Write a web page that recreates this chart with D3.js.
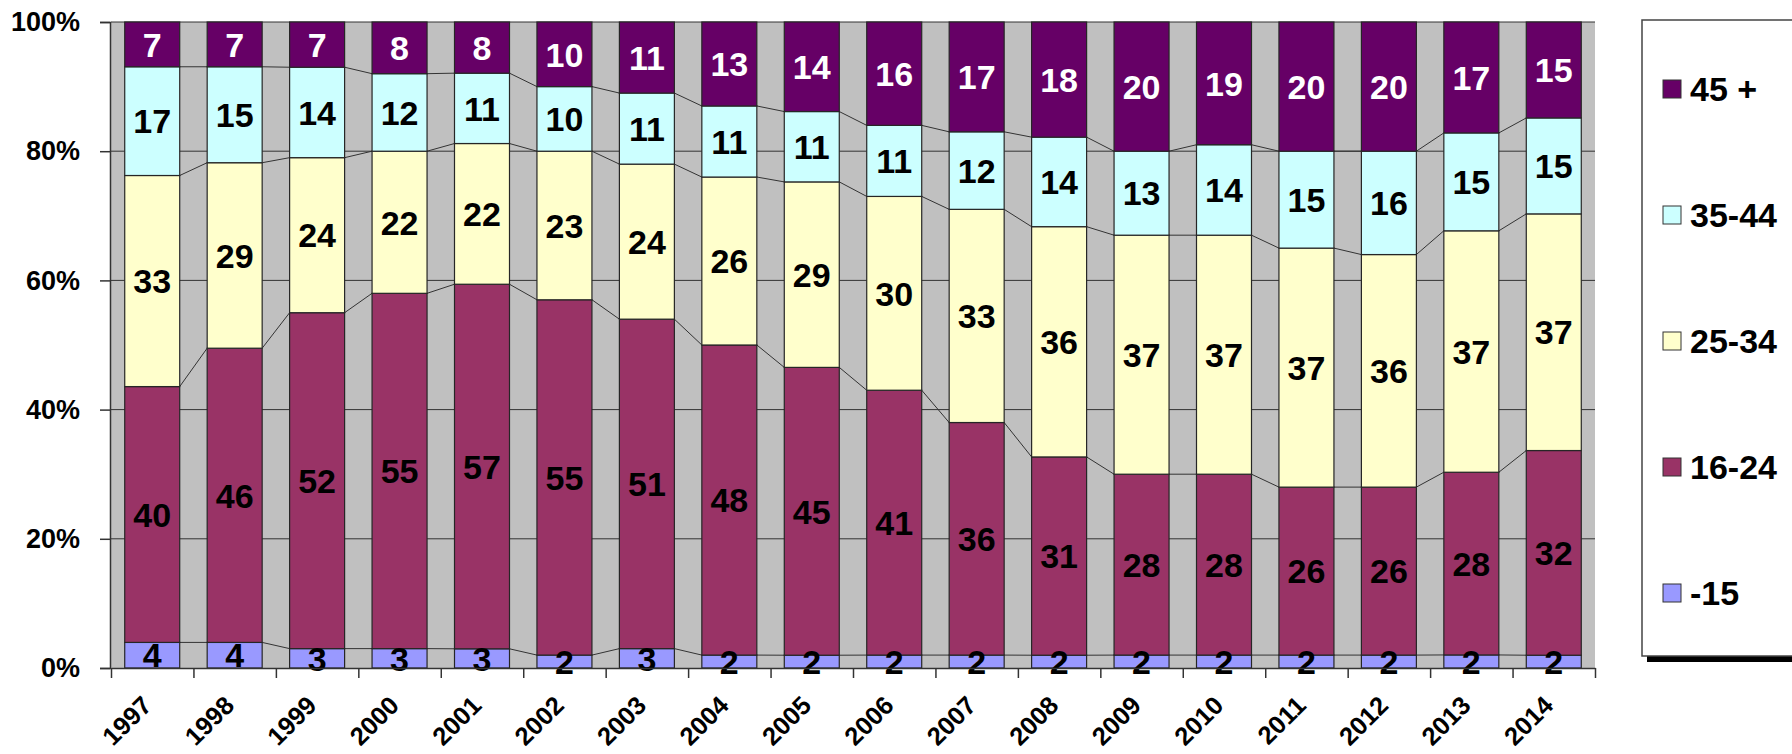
<!DOCTYPE html>
<html>
<head>
<meta charset="utf-8">
<script src="https://cdn.jsdelivr.net/npm/d3@7"></script>
<style>
  body { margin: 0; background: #fff; }
  svg { display: block; font-family: "Liberation Sans", Arial, sans-serif; font-weight: bold; }
</style>
</head>
<body>
<svg id="chart"></svg>
<script>
const width = 1792;
const height = 754;

const years = ["1997", "1998", "1999", "2000", "2001", "2002", "2003", "2004", "2005",
    "2006", "2007", "2008", "2009", "2010", "2011", "2012", "2013", "2014"];
const keys = ["-15", "16-24", "25-34", "35-44", "45 +"];
const colors = ["#9999ff", "#993366", "#ffffcc", "#ccffff", "#660066"];
const labelColors = ["#000", "#000", "#000", "#000", "#fff"];

const under15 = [4, 4, 3, 3, 3, 2, 3, 2, 2, 2, 2, 2, 2, 2, 2, 2, 2, 2];
const age16to24 = [40, 46, 52, 55, 57, 55, 51, 48, 45, 41, 36, 31, 28, 28, 26, 26, 28, 32];
const age25to34 = [33, 29, 24, 22, 22, 23, 24, 26, 29, 30, 33, 36, 37, 37, 37, 36, 37, 37];
const age35to44 = [17, 15, 14, 12, 11, 10, 11, 11, 11, 11, 12, 14, 13, 14, 15, 16, 15, 15];
const age45plus = [7, 7, 7, 8, 8, 10, 11, 13, 14, 16, 17, 18, 20, 19, 20, 20, 17, 15];
const yTicks = [0, 0.2, 0.4, 0.6, 0.8, 1];

const rows = years.map((yr, i) => ({
    year: yr,
    "-15": under15[i],
    "16-24": age16to24[i],
    "25-34": age25to34[i],
    "35-44": age35to44[i],
    "45 +": age45plus[i]
}));

const stacked = d3.stack().keys(keys).offset(d3.stackOffsetExpand)(rows);

const plot = { left: 111, right: 1595, top: 22, bottom: 668 };

const x = d3.scaleBand()
    .domain(years)
    .range([plot.left, plot.right]);
const barW = x.bandwidth() * 0.667;
const barOff = (x.bandwidth() - barW) / 2;

const y = d3.scaleLinear()
    .domain([0, 1])
    .range([plot.bottom, plot.top]);

const svg = d3.select("#chart")
    .attr("width", width)
    .attr("height", height);

// plot background
svg.append("rect")
    .attr("x", plot.left)
    .attr("y", plot.top)
    .attr("width", plot.right - plot.left)
    .attr("height", plot.bottom - plot.top)
    .attr("fill", "#c0c0c0");

// gridlines
svg.append("g")
    .selectAll("line")
    .data(yTicks.slice(1))
    .join("line")
    .attr("x1", plot.left)
    .attr("x2", plot.right)
    .attr("y1", d => y(d))
    .attr("y2", d => y(d))
    .attr("stroke", "#333")
    .attr("stroke-width", 1);

// series lines between bars
const seriesLines = svg.append("g");
stacked.slice(0, keys.length - 1).forEach(s => {
    for (let i = 0; i < s.length - 1; i++) {
        seriesLines.append("line")
            .attr("x1", x(years[i]) + barOff + barW)
            .attr("y1", y(s[i][1]))
            .attr("x2", x(years[i + 1]) + barOff)
            .attr("y2", y(s[i + 1][1]))
            .attr("stroke", "#333")
            .attr("stroke-width", 1);
    }
});

// bars
stacked.forEach((s, k) => {
    svg.append("g")
        .selectAll("rect")
        .data(s)
        .join("rect")
        .attr("x", d => x(d.data.year) + barOff)
        .attr("y", d => y(d[1]))
        .attr("width", barW)
        .attr("height", d => y(d[0]) - y(d[1]))
        .attr("fill", colors[k])
        .attr("stroke", "#262626")
        .attr("stroke-width", 1.2);
});

// data labels
stacked.forEach((s, k) => {
    svg.append("g")
        .selectAll("text")
        .data(s)
        .join("text")
        .attr("x", d => x(d.data.year) + x.bandwidth() / 2)
        .attr("y", d => (y(d[0]) + y(d[1])) / 2)
        .attr("dy", "0.36em")
        .attr("text-anchor", "middle")
        .attr("font-size", 34)
        .attr("fill", labelColors[k])
        .text(d => d.data[keys[k]]);
});

// y axis
const yAxis = svg.append("g")
    .attr("transform", `translate(${plot.left - 1},0)`)
    .call(d3.axisLeft(y)
        .tickValues(yTicks)
        .tickFormat(d3.format(".0%"))
        .tickSize(10)
        .tickPadding(20));
yAxis.select(".domain").attr("stroke", "#333").attr("stroke-width", 1.5);
yAxis.selectAll(".tick line").attr("stroke", "#333").attr("stroke-width", 1.5);
yAxis.selectAll(".tick text")
    .attr("font-size", 27)
    .attr("font-family", "Liberation Sans, Arial, sans-serif")
    .attr("font-weight", "bold")
    .attr("fill", "#000");

// x axis: ticks between categories
const xIdx = d3.scaleLinear().domain([0, years.length]).range([plot.left, plot.right]);
const xAxis = svg.append("g")
    .attr("transform", `translate(0,${plot.bottom})`)
    .call(d3.axisBottom(xIdx)
        .tickValues(d3.range(years.length + 1))
        .tickFormat("")
        .tickSize(10)
        .tickSizeOuter(0));
xAxis.select(".domain").attr("stroke", "#333").attr("stroke-width", 1.5);
xAxis.selectAll(".tick line").attr("stroke", "#333").attr("stroke-width", 1.5);

svg.append("g")
    .selectAll("text")
    .data(years)
    .join("text")
    .attr("transform", d => `translate(${x(d) + x.bandwidth() / 2 + 1},${plot.bottom + 39}) rotate(-45)`)
    .attr("text-anchor", "end")
    .attr("font-size", 25.5)
    .attr("fill", "#000")
    .text(d => d);

// legend
const legend = { x: 1642, y: 20, w: 170, h: 636 };
svg.append("rect")
    .attr("x", legend.x + 5)
    .attr("y", legend.y + 6)
    .attr("width", legend.w)
    .attr("height", legend.h)
    .attr("fill", "#000");
svg.append("rect")
    .attr("x", legend.x)
    .attr("y", legend.y)
    .attr("width", legend.w)
    .attr("height", legend.h)
    .attr("fill", "#fff")
    .attr("stroke", "#444")
    .attr("stroke-width", 1.5);

const legendKeys = keys.slice().reverse();
const ly = d3.scalePoint().domain(legendKeys).range([89, 593]);
const items = svg.append("g")
    .selectAll("g")
    .data(legendKeys)
    .join("g")
    .attr("transform", d => `translate(1663,${ly(d)})`);
items.append("rect")
    .attr("x", 0)
    .attr("y", -9)
    .attr("width", 18)
    .attr("height", 18)
    .attr("fill", d => colors[keys.indexOf(d)])
    .attr("stroke", "#333")
    .attr("stroke-width", 1);
items.append("text")
    .attr("x", 27)
    .attr("dy", "0.36em")
    .attr("font-size", 34)
    .attr("fill", "#000")
    .text(d => d);
</script>
</body>
</html>
